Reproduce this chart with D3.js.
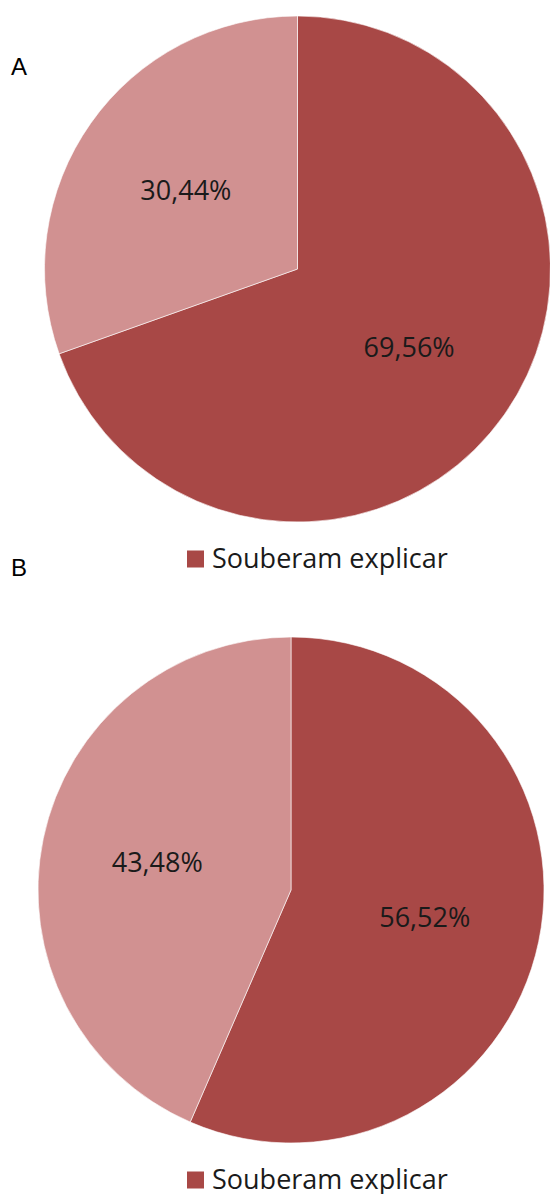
<!DOCTYPE html>
<html>
<head>
<meta charset="utf-8">
<script src="https://cdn.jsdelivr.net/npm/d3@7"></script>
<style>
  body { margin: 0; background: #fff; }
  .panel-letter { font-family: "Liberation Sans", Arial, sans-serif; font-size: 24px; fill: #000; }
  .pct { font-family: "Open Sans", "Noto Sans", sans-serif; font-size: 27px; fill: #1a1a1a; }
  .legend { font-family: "Open Sans", "Noto Sans", sans-serif; font-size: 27px; fill: #1a1a1a; }
</style>
</head>
<body>
<div id="chart"></div>
<script>
// data
const categories = ["Souberam explicar", "Não souberam explicar"]
const panels = ["A", "B"]
const valuesA = [69.56, 30.44]
const valuesB = [56.52, 43.48]
const colors = ["#a84846", "#d19191"]

// 1. dimensions
const width = 550
const height = 1194
const radius = 253

// where each panel sits
const layout = [
  { letter: panels[0], values: valuesA, cx: 297.5, cy: 269, letterY: 75, legendY: 559 },
  { letter: panels[1], values: valuesB, cx: 291, cy: 890, letterY: 576, legendY: 1180 },
]

const svg = d3.select("#chart")
  .append("svg")
    .attr("width", width)
    .attr("height", height)

const pie = d3.pie()
  .sort(null)
  .value(d => d)

const arc = d3.arc()
  .innerRadius(0)
  .outerRadius(radius)

const labelArc = d3.arc()
  .innerRadius(radius * 0.54)
  .outerRadius(radius * 0.54)

const fmt = v => d3.format(".2f")(v).replace(".", ",") + "%"

layout.forEach(p => {
  const g = svg.append("g")
    .attr("transform", `translate(${p.cx}, ${p.cy})`)

  const arcs = pie(p.values)

  g.selectAll("path")
    .data(arcs)
    .join("path")
      .attr("d", arc)
      .attr("fill", (d, i) => colors[i])
      .attr("stroke", "#fff")
      .attr("stroke-width", 0.6)

  g.selectAll("text")
    .data(arcs)
    .join("text")
      .attr("class", "pct")
      .attr("transform", d => `translate(${labelArc.centroid(d)})`)
      .attr("text-anchor", "middle")
      .attr("dy", "0.35em")
      .text(d => fmt(d.data))

  // panel letter
  svg.append("text")
    .attr("class", "panel-letter")
    .attr("x", 11)
    .attr("y", p.letterY)
    .text(p.letter)

  // legend (only the first entry is visible)
  const lg = svg.append("g")
    .attr("transform", `translate(187, ${p.legendY})`)
  lg.append("rect")
    .attr("x", 0)
    .attr("y", -8.5)
    .attr("width", 17)
    .attr("height", 17)
    .attr("fill", colors[0])
  lg.append("text")
    .attr("class", "legend")
    .attr("x", 25)
    .attr("y", 0)
    .attr("dy", "0.33em")
    .text(categories[0])
})
</script>
</body>
</html>
